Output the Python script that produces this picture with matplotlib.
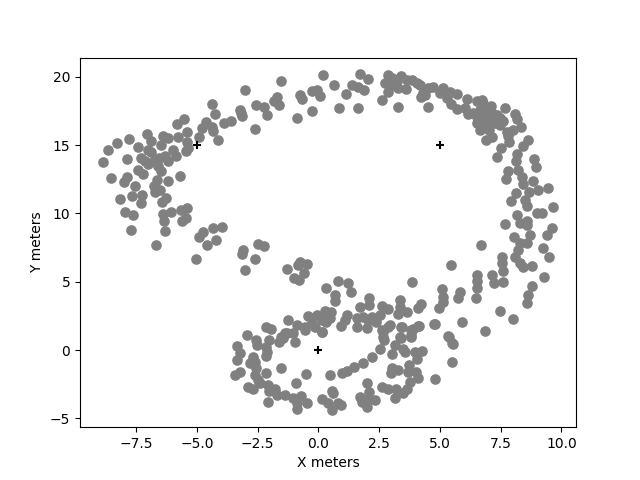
import matplotlib
matplotlib.use("Agg")
import matplotlib.pyplot as plt

landmark_x = [-5, 5, 0]
landmark_y = [15, 15, 0]

# upper-left arc
x_a = [-3.02,-4.39,-2.57,-4.25,-3.23,-3.2,-3.16,-3.6,-3.88,-2.6,-4.62,-4.78,-4.39,-4.35,-4.14,-4.91,-5.39,-5.52,-5.82,-7.07,-7.81,-8.29,-8.64,-8.86,-7.89,-8.55,-6.38,-6.17,-5.76,-5.39,-5.35,-5.46,-6.89,-6.48,-7.41,-7.0,-6.89,-5.97,-5.86,-6.17,-6.31,-6.55,-6.76,-7.0,-7.3,-7.13,-6.59,-6.48,-7.41,-7.2,-5.71,-6.2,-6.65,-6.76,-7.89,-7.99,-7.55,-6.52,-6.72,-8.16,-7.68,-7.27,-7.3,-6.27,-6.42,-5.42,-5.65,-7.97,-7.62,-6.38,-6.07,-6.35,-5.45,-5.61,-7.71,-6.33,-6.68,-5.02,-4.76,-4.9,-4.34,-3.98,-4.21,-4.6]
y_a = [19.0,18.03,17.95,17.3,17.6,17.35,17.1,16.73,16.6,16.2,16.66,16.25,16.3,16.0,15.36,15.6,15.98,16.88,16.54,15.83,15.44,15.12,14.66,13.75,13.95,12.56,15.68,15.51,15.6,15.22,14.78,14.56,15.27,15.0,14.83,14.66,14.53,14.66,14.17,13.8,14.17,14.05,13.8,13.63,14.05,13.87,13.44,13.14,13.19,12.9,12.73,12.39,12.46,12.02,12.7,12.29,12.02,11.73,11.6,11.09,11.24,11.36,10.75,11.12,10.82,10.38,10.26,10.1,9.85,9.97,10.07,9.48,9.65,9.41,8.8,8.72,7.67,6.67,8.62,8.28,8.92,9.02,8.06,7.67]

# middle band
x_b = [-2.5,-2.24,-3.1,-3.14,-2.62,-3,-1.31,-0.76,-0.45,-0.83,-0.59,-1.01,-0.8,0.81,1.23,0.33,1.34,0.7,0.68,3.86,2.08,2.08,1.73,2.6,2.87,3.37,3.35,3.63,3.28,4.08,4.24,-1.24,-0.42,-0.04,0.27,0.51,1.16,0.47,0.13,-0.28,-0.56,-0.15,0.33,-0.9,0.13,0.95,1.09,1.57,1.84,2.19,2.53,1.57,1.98,2.39,2.05,2.94,2.6,2.87,3.39,4.11,3.83,-1.38,-1.52,2.67,3.35,3.83]
y_b = [7.74,7.62,7.33,7.03,6.67,5.84,5.91,6.47,6.27,6.23,5.62,5.25,5.13,5.05,4.88,4.52,4.27,4.03,3.61,5.0,3.83,3.3,3.12,3.25,3.0,3.66,3.17,2.81,2.61,3.05,3.37,2.2,2.49,2.56,2.86,2.81,2.56,2.32,2.2,1.95,1.71,1.71,2.07,1.83,1.34,1.76,2.2,2.32,2.44,2.44,2.56,1.71,1.59,2.07,2.2,1.83,1.46,1.71,1.66,1.78,1.46,1.22,0.93,0.93,0.93,0.98]

# lower loop
x_c = [-2.14,-1.93,-2.94,-3.33,-2.55,-2.52,-2.04,-2.14,-2.11,-2.14,-1.61,-0.97,-1.31,-1.45,-1.04,-0.56,0.13,-3.23,-3.34,-2.68,-2.82,-2.62,-2.55,-3.23,-3.44,-2.62,-2.14,-2.48,-1.55,-0.52,-0.94,-2.89,-2.68,-2.41,-2.07,-2.04,-1.79,-1.72,-1.38,-2.07,-1.04,-0.7,-0.9,-0.9,-0.45,0.46,0.98,1.16,1.46,1.84,2.19,2.53,3.01,2.71,2.67,3.15,3.42,3.39,3.83,3.9,4.13,4.79,5.37,5.5,5.48,4.79,3.49,3.56,3.97,4.27,4.06,3.74,3.01,2.98,3.28,3.69,4,4.1,3.76,3.63,3.49,3.15,3.21,2.87,2.6,2.01,2.09,1.71,1.8,2.01,2.32,2.05,0.54,0.61,0.13,0.4,0.54,0.95,0.81]
y_c = [1.71,1.54,1.08,0.32,0.73,0.37,0.73,0.25,-0.12,-0.44,0.56,0.61,1.22,0.86,1.22,1.47,1.3,-0.24,-0.73,-0.49,-0.97,-0.85,-1.34,-1.59,-1.83,-1.83,-1.71,-2.2,-1.29,-1.76,-2.44,-2.68,-2.81,-2.44,-2.56,-2.98,-2.86,-3.29,-3.29,-3.78,-3.54,-3.37,-3.9,-4.34,-3.9,-1.83,-1.66,-1.51,-1.27,-0.97,-0.53,0.08,-0.32,0.73,1.35,0.37,1.66,0.86,1.1,1.52,1.78,1.91,0.98,0.49,-0.9,-2.12,0.05,-0.12,-0.12,-0.05,-0.68,-1.1,-1.34,-1.71,-1.46,-1.59,-1.59,-2.07,-2.32,-2.81,-3.17,-3.47,-2.88,-2.88,-2.73,-2.44,-3.05,-3.42,-3.78,-4.15,-3.66,-3.66,-2.98,-3.12,-3.61,-3.86,-4.39,-4.03,-3.9]

# top arc
x_d = [-1.52,-2.23,-2.13,-1.72,-1.82,-1.63,-0.76,-0.69,-0.87,-0.27,0.17,-0.28,-0.05,0.05,0.65,1.13,0.84,1.61,1.73,2.04,1.38,1.64,1.89,2.63,2.85,2.74,2.87,3.08,3.28,3.38,3.63,3.59,3.86,4.04,3.27,4.31,4.23,4.52,4.49,3.01,3.22]
y_d = [19.71,17.76,17.17,18.51,18.2,17.95,18.69,18.37,17.0,17.51,20.13,18.93,19.05,18.56,19.42,18.73,17.71,17.71,20.22,19.83,19.42,19.22,19.0,18.27,18.88,19.54,20.1,19.42,19.17,20.03,19.79,19.1,19.74,19.54,17.76,18.81,18.49,17.76,19.17,19.9,19.66]

# upper-right arc
x_e = [4.18,4.39,4.7,5.11,5.0,5.41,5.72,5.28,5.44,5.69,6.13,6.03,6.14,6.51,6.79,7.1,6.65,6.92,6.54,6.79,6.51,7.06,7.34,7.68,8.09,8.16,7.61,7.27,6.65,7,7.13,6.9,7.47,7.75,8.02,8.32,7.82,7.86,8.61,8.43,7.51,7.36,8.16,8.12,8.87,8.97,7.82,8.23,7.72,8.36,8.4,8.84,8.68,9.05,9.43,8.12,7.91,8.5,8.57,9.64,6.37,7.13,6.86,6.72,7.27,7.47]
y_e = [19.41,18.68,19.24,19.17,18.8,18.85,18.75,18.44,18.02,17.63,18.39,17.7,17.29,18.2,18.07,17.83,17.58,17.46,17.09,16.97,16.6,16.73,17.22,17.7,17.26,16.9,16.73,16.6,16.12,16.12,15.58,15.38,16.48,15.99,16.12,16.29,15.63,15.21,15.36,14.9,14.75,14.16,14.36,13.85,13.97,13.38,13.14,13.19,12.55,12.7,12.16,12.4,11.6,11.72,11.89,11.48,10.92,10.99,10.55,10.45,17.34,17.34,16.6,18.3,16.97,16.97]

# right side
x_f = [8.98,9.19,8.17,7.68,8.3,8.57,8.57,9.63,9.39,8.71,8.06,8.57,8.3,8.23,6.69,9.23,9.49,7.57,8.09,7.57,8.3,8.43,8.8,7.61,5.44,6.54,7.13,6.54,7.23,7.61,9.27,8.8,6.51,5.07,5.83,8.64,5.11,5.76,6.47,5.14,8.6,4.98,7.47,7.99,5.92,4.77,6.87,5.35,5.55]
y_f = [10.01,10.01,9.89,9.23,9.33,9.48,9.16,8.91,8.43,8.43,8.3,7.82,7.82,7.33,7.7,7.45,6.84,6.79,6.84,6.35,6.35,6.11,6.15,5.81,6.25,5.52,5.47,5.06,4.88,4.96,5.37,4.71,4.57,4.45,4.27,4.03,3.91,3.79,3.83,3.54,3.42,3.05,2.86,2.27,2.06,1.93,1.42,1.03,0.47]

x_m = x_a + x_b + x_c + x_d + x_e + x_f
y_m = y_a + y_b + y_c + y_d + y_e + y_f

fig, ax = plt.subplots(figsize=(6.4, 4.8), dpi=100)
ax.scatter(x_m, y_m, s=44, color="gray")
ax.scatter(landmark_x, landmark_y, marker="+", s=36, color="black", linewidths=1.5, zorder=3)
ax.set_xlim(-9.81, 10.6)
ax.set_ylim(-5.64, 21.4)
ax.set_xlabel("X meters")
ax.set_ylabel("Y meters")
fig.savefig("out.png", dpi=100)
